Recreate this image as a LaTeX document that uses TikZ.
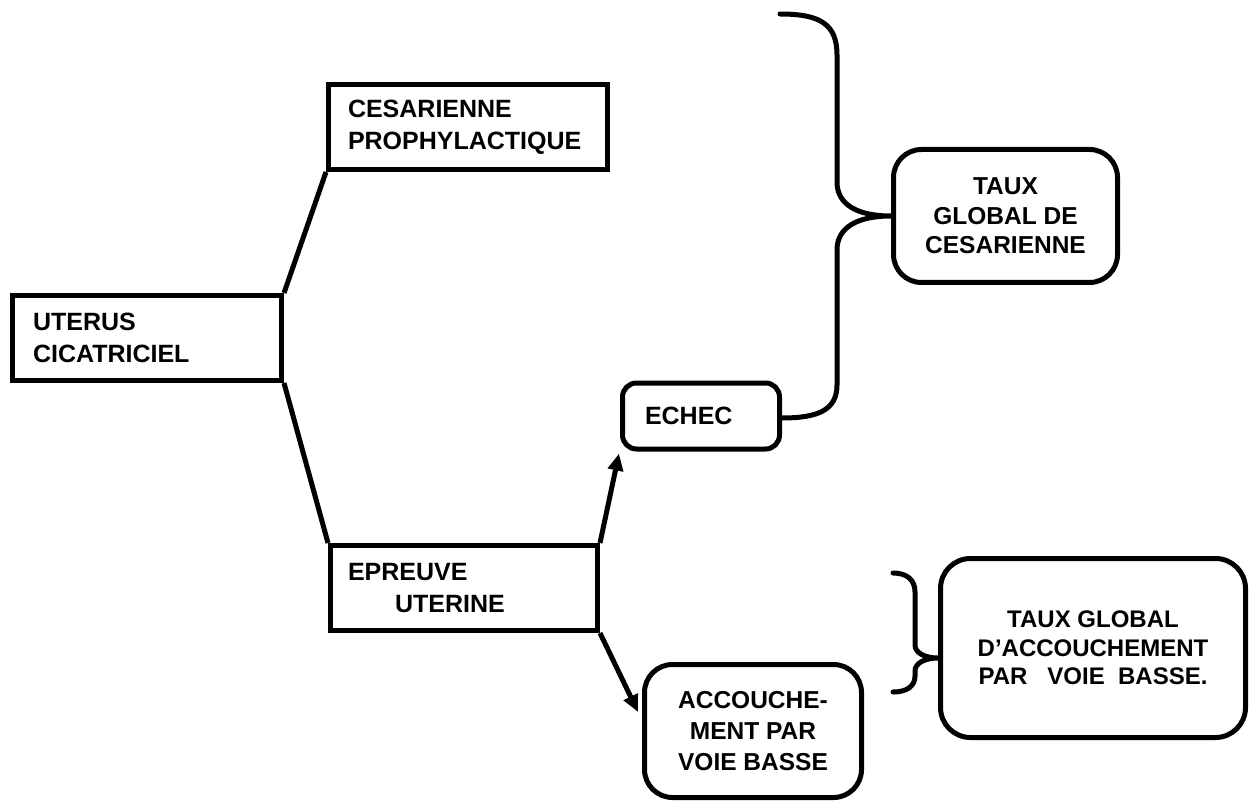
\documentclass[tikz,border=0pt]{standalone}
\usepackage{fontspec}
\setmainfont{Liberation Sans}
\usetikzlibrary{arrows.meta}
\begin{document}
\begin{tikzpicture}[x=1pt,y=-1pt,
  every node/.style={font=\fontsize{25}{32}\selectfont\bfseries},
  sqbox/.style={draw,line width=5pt,inner ysep=0pt,align=left},
  rbox/.style={draw,line width=5pt,rounded corners=#1,inner sep=0pt,align=center},
  link/.style={line width=5pt},
  arr/.style={line width=5pt,-{Triangle[length=17pt,width=15pt]}},
  brace/.style={line width=5pt,line cap=round}]
\useasboundingbox (0,0) rectangle (1255,802);

\node[sqbox,inner xsep=20.5pt,text width=228pt,minimum height=85pt] (ut) at (147,338) {UTERUS\\CICATRICIEL};
\node[sqbox,inner xsep=19.5pt,text width=240pt,minimum height=85pt] (ces) at (468,127) {\raisebox{3pt}{\parbox{240pt}{CESARIENNE\\PROPHYLACTIQUE}}};
\node[sqbox,inner xsep=17.5pt,text width=232pt,minimum height=85pt] (ep) at (464,588) {EPREUVE\\\hspace*{47pt}UTERINE};
\node[rbox=14pt,minimum width=157pt,minimum height=66pt] (ech) at (701,416) {\makebox[112pt][l]{ECHEC}};
\node[rbox=28pt,minimum width=217pt,minimum height=133pt,font=\fontsize{24.5}{31}\selectfont\bfseries] (acc) at (753,731) {\raisebox{-6pt}{\parbox{200pt}{\centering ACCOUCHE-\\MENT PAR\\VOIE BASSE}}};
\node[rbox=28pt,minimum width=224pt,minimum height=133pt,font=\fontsize{24.5}{29.5}\selectfont\bfseries] (tc) at (1005.5,216) {TAUX\\GLOBAL DE\\CESARIENNE};
\node[rbox=30pt,minimum width=305pt,minimum height=179pt,font=\fontsize{24}{28.5}\selectfont\bfseries] (ta) at (1093,648) {\raisebox{3pt}{\parbox{290pt}{\centering TAUX GLOBAL\\D’ACCOUCHEMENT\\PAR\ \ \ VOIE\ \ BASSE.}}};

\draw[link] (ut.north east) -- (ces.south west);
\draw[link] (ut.south east) -- (ep.north west);
\draw[arr] (ep.north east) -- ([xshift=-1pt,yshift=-2pt]ech.south west);
\draw[arr] (ep.south east) -- ([xshift=-4pt,yshift=19pt]acc.west);

\coordinate (b1top) at (780,14);
\coordinate (b1tip) at (tc.west);
\coordinate (b1bot) at ([yshift=-2pt]ech.east);
\draw[brace] (b1top) .. controls (820,14) and (837,24) .. (837,55)
  -- (837,182) .. controls (837,205) and (858,216) .. (b1tip)
  .. controls (858,216) and (837,227) .. (837,250)
  -- (837,385) .. controls (837,410) and (818,418) .. (b1bot);

\coordinate (b2top) at (893,573);
\coordinate (b2tip) at ([yshift=-10pt]ta.west);
\coordinate (b2bot) at (893,692);
\draw[brace] (b2top) .. controls (907,573) and (915,580) .. (915,592)
  -- (915,645) .. controls (915,653) and (925,658) .. (b2tip)
  .. controls (925,658) and (915,663) .. (915,671)
  -- (915,676) .. controls (915,686) and (907,692) .. (b2bot);
\end{tikzpicture}
\end{document}
